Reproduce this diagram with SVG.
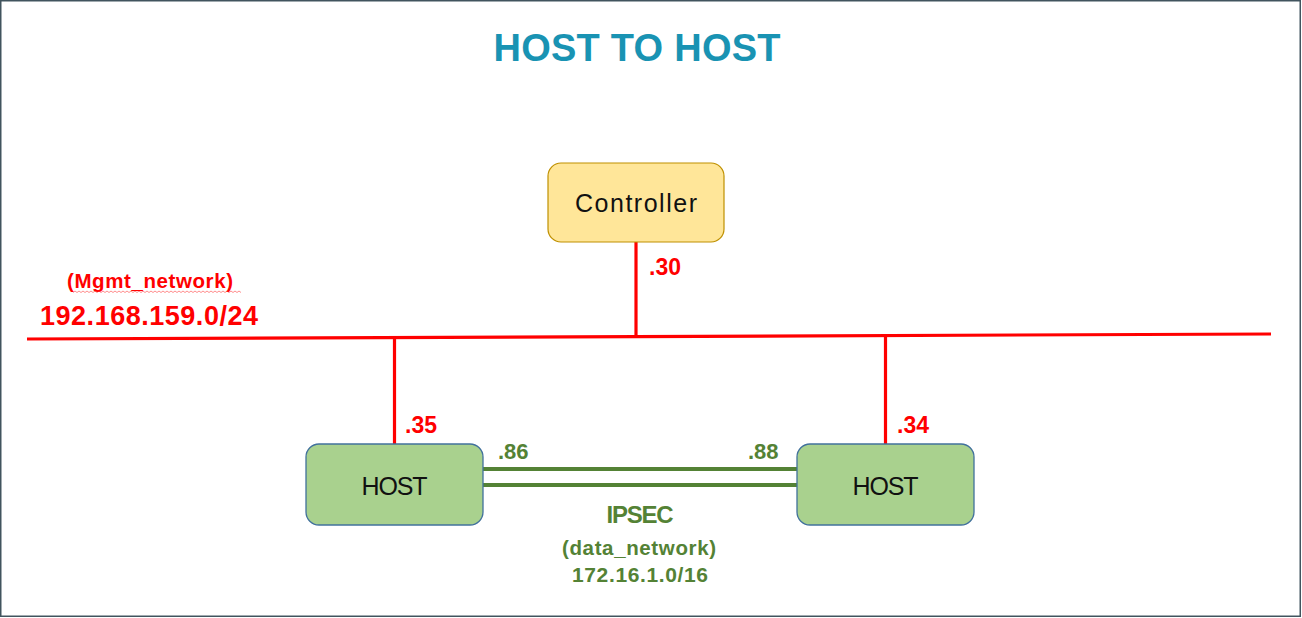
<svg xmlns="http://www.w3.org/2000/svg" width="1302" height="618" viewBox="0 0 1302 618">
<style>
.t{font-family:"Liberation Sans",Arial,sans-serif}
.red{fill:#ff0000;font-weight:bold}
.grn{fill:#548235;font-weight:bold}
.lbl{fill:#111;font-size:25px}
.mg{stroke:#ff0000;stroke-width:3.2;fill:none}
.dn{stroke:#548235;stroke-width:4;fill:none}
.host{fill:#a9d18e;stroke:#41719c;stroke-width:1.3}
</style>
<rect x="0.75" y="0.75" width="1299.5" height="615.5" fill="#fff" stroke="#41545e" stroke-width="1.5"/>
<text class="t" x="637" y="61" text-anchor="middle" font-size="38" font-weight="bold" fill="#1993b3" textLength="287">HOST TO HOST</text>
<g id="connectors">
<line class="mg" x1="27" y1="339" x2="1271" y2="334"/>
<line class="mg" x1="636" y1="242" x2="636" y2="337"/>
<line class="mg" x1="394.5" y1="339" x2="394.5" y2="444"/>
<line class="mg" x1="885.5" y1="335" x2="885.5" y2="444"/>
<line class="dn" x1="483" y1="469" x2="797" y2="469"/>
<line class="dn" x1="483" y1="485" x2="797" y2="485"/>
</g>
<g id="mgmt-label">
<text class="t red" x="67" y="288" font-size="20.5" textLength="166">(Mgmt_network)</text>
<path d="M73 292.5 l2 -1.5 l2 1.5 l2 -1.5 l2 1.5 l2 -1.5 l2 1.5 l2 -1.5 l2 1.5 l2 -1.5 l2 1.5 l2 -1.5 l2 1.5 l2 -1.5 l2 1.5 l2 -1.5 l2 1.5 l2 -1.5 l2 1.5 l2 -1.5 l2 1.5 l2 -1.5 l2 1.5 l2 -1.5 l2 1.5 l2 -1.5 l2 1.5 l2 -1.5 l2 1.5 l2 -1.5 l2 1.5 l2 -1.5 l2 1.5 l2 -1.5 l2 1.5 l2 -1.5 l2 1.5 l2 -1.5 l2 1.5 l2 -1.5 l2 1.5 l2 -1.5 l2 1.5 l2 -1.5 l2 1.5 l2 -1.5 l2 1.5 l2 -1.5 l2 1.5 l2 -1.5 l2 1.5 l2 -1.5 l2 1.5 l2 -1.5 l2 1.5 l2 -1.5 l2 1.5 l2 -1.5 l2 1.5 l2 -1.5 l2 1.5 l2 -1.5 l2 1.5 l2 -1.5 l2 1.5 l2 -1.5 l2 1.5 l2 -1.5 l2 1.5 l2 -1.5 l2 1.5 l2 -1.5 l2 1.5 l2 -1.5 l2 1.5 l2 -1.5 l2 1.5 l2 -1.5 l2 1.5 l2 -1.5 l2 1.5 l2 -1.5 l2 1.5 l2 -1.5 l2 1.5" fill="none" stroke="#ff3030" stroke-width="0.8" opacity="0.7"/>
<text class="t red" x="40" y="325" font-size="27" textLength="218">192.168.159.0/24</text>
</g>
<g id="controller">
<rect x="548" y="163" width="176" height="79" rx="13" fill="#ffe699" stroke="#bf9000" stroke-width="1.2"/>
<text class="t lbl" x="636" y="212" text-anchor="middle" font-size="26" textLength="122">Controller</text>
<text class="t red" x="649" y="275" font-size="23">.30</text>
</g>
<g id="host-left">
<rect class="host" x="306" y="444" width="177" height="81" rx="13"/>
<text class="t lbl" x="394.5" y="495" text-anchor="middle" font-size="24" textLength="66">HOST</text>
<text class="t red" x="405" y="433" font-size="23">.35</text>
</g>
<g id="host-right">
<rect class="host" x="797" y="444" width="177" height="81" rx="13"/>
<text class="t lbl" x="885.5" y="495" text-anchor="middle" font-size="24" textLength="66">HOST</text>
<text class="t red" x="897" y="433" font-size="23">.34</text>
</g>
<g id="data-label">
<text class="t grn" x="498" y="459" font-size="22">.86</text>
<text class="t grn" x="748" y="459" font-size="22">.88</text>
<text class="t grn" x="640" y="523" font-size="24" text-anchor="middle" textLength="67">IPSEC</text>
<text class="t grn" x="639" y="555" font-size="20.5" text-anchor="middle" textLength="154">(data_network)</text>
<text class="t grn" x="640" y="582" font-size="21" text-anchor="middle" textLength="136">172.16.1.0/16</text>
</g>
</svg>
